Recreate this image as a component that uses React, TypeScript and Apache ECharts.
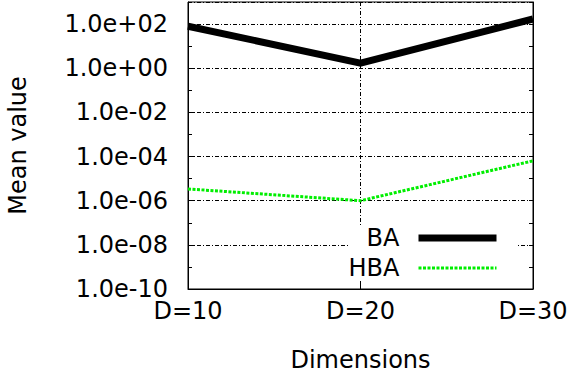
import React, { useEffect, useRef } from "react";
import * as echarts from "echarts";

const categories = ["D=10", "D=20", "D=30"];
const baValues = [80, 1.7, 170];
const hbaValues = [3.4e-6, 1.0e-6, 6.4e-5];
const seriesNames = ["BA", "HBA"];
const yMin = 1e-10;
const yMax = 1e3;

const FONT = "DejaVu Sans";

const fmtExp = (v: number) => {
  const e = Math.round(Math.log10(v));
  const sign = e < 0 ? "-" : "+";
  const a = Math.abs(e);
  return "1.0e" + sign + (a < 10 ? "0" + a : "" + a);
};

export default function App() {
  const ref = useRef<HTMLDivElement>(null);
  useEffect(() => {
    if (!ref.current) return;
    const chart = echarts.init(ref.current, undefined, { renderer: "svg" });
    const gridStyle = { color: "#000", width: 1, type: [4, 2, 1, 2] as any };
    chart.setOption({
      animation: false,
      backgroundColor: "#fff",
      textStyle: { fontFamily: FONT, color: "#000" },
      grid: {
        left: 188,
        right: 35,
        top: 2,
        bottom: 85,
        show: true,
        borderColor: "#000",
        borderWidth: 1,
        containLabel: false,
        outerBoundsMode: "none",
      },
      legend: {
        orient: "vertical",
        align: "right",
        right: 51,
        top: 225,
        itemWidth: 78,
        itemHeight: 24,
        itemGap: 6,
        padding: [1, 17, 1, 0],
        backgroundColor: "#fff",
        textStyle: {
          fontFamily: FONT,
          fontSize: 24,
          color: "#000",
          padding: [0, 14, 0, 0],
        },
        data: [
          { name: seriesNames[0], lineStyle: { width: 7 }, itemStyle: { opacity: 0 } },
          { name: seriesNames[1], lineStyle: { width: 3 }, itemStyle: { opacity: 0 } },
        ],
      },
      xAxis: {
        type: "category",
        data: categories,
        boundaryGap: false,
        name: "Dimensions",
        nameLocation: "middle",
        nameGap: 60,
        nameTextStyle: { fontFamily: FONT, fontSize: 24, lineHeight: 22, color: "#000" },
        axisLine: { show: true, lineStyle: { color: "#000", width: 1 } },
        axisTick: { show: true, inside: true, length: 6, lineStyle: { color: "#000" } },
        axisLabel: { fontFamily: FONT, fontSize: 24, color: "#000", margin: 10 },
        splitLine: { show: true, lineStyle: gridStyle },
      },
      yAxis: [
        {
          type: "log",
          logBase: 10,
          min: yMin,
          max: yMax,
          interval: 2,
          name: "Mean value",
          nameLocation: "middle",
          nameGap: 158,
          nameTextStyle: { fontFamily: FONT, fontSize: 24, color: "#000" },
          axisLine: { show: true, lineStyle: { color: "#000", width: 1 } },
          axisTick: { show: true, inside: true, length: 6, lineStyle: { color: "#000" } },
          axisLabel: {
            fontFamily: FONT,
            fontSize: 24,
            color: "#000",
            margin: 20,
            showMaxLabel: false,
            formatter: (v: number) => (v >= yMax * 0.99 ? "" : fmtExp(v)),
          },
          splitLine: { show: true, lineStyle: gridStyle },
        },
        {
          type: "log",
          logBase: 10,
          min: yMin,
          max: yMax,
          interval: 1,
          position: "left",
          axisLine: { show: false },
          axisTick: { show: true, inside: true, length: 4, lineStyle: { color: "#000" } },
          axisLabel: { show: false },
          splitLine: { show: false },
        },
        {
          type: "log",
          logBase: 10,
          min: yMin,
          max: yMax,
          interval: 1,
          position: "right",
          axisLine: { show: true, lineStyle: { color: "#000", width: 1 } },
          axisTick: { show: true, inside: true, length: 4, lineStyle: { color: "#000" } },
          axisLabel: { show: false },
          splitLine: { show: false },
        },
      ],
      series: [
        {
          name: seriesNames[0],
          type: "line",
          yAxisIndex: 0,
          data: baValues,
          symbol: "none",
          lineStyle: { color: "#000", width: 7, join: "miter" },
          itemStyle: { color: "#000" },
          z: 3,
        },
        {
          name: seriesNames[1],
          type: "line",
          yAxisIndex: 0,
          data: hbaValues,
          symbol: "none",
          lineStyle: { color: "#00ee00", width: 3, type: [3, 1.5], cap: "butt" },
          itemStyle: { color: "#00ee00" },
          z: 3,
        },
      ],
    });
    return () => chart.dispose();
  }, []);
  return (
    <div
      ref={ref}
      style={{ position: "fixed", left: 0, top: 0, width: 568, height: 374 }}
    />
  );
}
